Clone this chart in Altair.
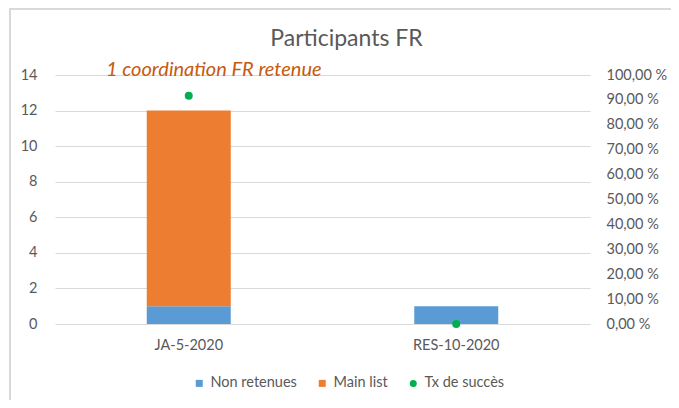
import altair as alt
import pandas as pd

categories = ["JA-5-2020", "RES-10-2020"]
non_retenues = [1, 1]
main_list = [11, 0]
tx_succes = [0.9167, 0.0]
series = ["Non retenues", "Main list", "Tx de succès"]
colors = ["#5b9bd5", "#ed7d31", "#00b050"]
shapes = ["square", "square", "circle"]
annotation = "1 coordination FR retenue"
left_ticks = [0, 2, 4, 6, 8, 10, 12, 14]
right_ticks = [0, 0.1, 0.2, 0.3, 0.4, 0.5, 0.6, 0.7, 0.8, 0.9, 1.0]

FONT = "Lato"
GREY = "#595959"
LS = 14.5

bars_df = pd.DataFrame({
    "cat": categories * 2,
    "serie": [series[0]] * 2 + [series[1]] * 2,
    "val": non_retenues + main_list,
    "ord": [0, 0, 1, 1],
})
pts_df = pd.DataFrame({"cat": categories, "serie": [series[2]] * 2, "rate": tx_succes})
ann_df = pd.DataFrame({"cat": [categories[0]], "val": [14], "t": [annotation]})
frame_df = pd.DataFrame({"a": [0]})

xenc = alt.X("cat:N", sort=categories, title=None,
             scale=alt.Scale(paddingInner=0.686, paddingOuter=0.343),
             axis=alt.Axis(labelAngle=0, ticks=False, domain=False, labelPadding=14,
                           labelFont=FONT, labelFontSize=LS, labelColor=GREY))

leg = alt.Legend(orient="none", legendX=137, legendY=301,
                 direction="horizontal", title=None, symbolSize=49,
                 columnPadding=18, labelFont=FONT, labelFontSize=LS,
                 labelColor=GREY, symbolStrokeWidth=0)

color = alt.Color("serie:N", scale=alt.Scale(domain=series, range=colors), legend=leg)
shape = alt.Shape("serie:N", scale=alt.Scale(domain=series, range=shapes), legend=leg)

yaxis = alt.Axis(values=left_ticks, grid=True, gridColor="#d9d9d9", ticks=False,
                 domain=False, labelPadding=18, labelFont=FONT, labelFontSize=LS,
                 labelColor=GREY, labelOverlap=False)
yscale = alt.Scale(domain=[0, 14], nice=False)

bars = alt.Chart(bars_df).mark_bar(size=84).encode(
    x=xenc,
    y=alt.Y("val:Q", stack="zero", title=None, scale=yscale, axis=yaxis),
    color=color, order=alt.Order("ord:Q"))

text = alt.Chart(ann_df).mark_text(fontStyle="italic", fontSize=20, font=FONT,
                                   color="#c55a11", dx=25, dy=-5, baseline="middle").encode(
    x=alt.X("cat:N", sort=categories),
    y=alt.Y("val:Q", stack=None, title=None, scale=yscale, axis=yaxis),
    text="t:N")

left = alt.layer(bars, text)

points = alt.Chart(pts_df).mark_point(filled=True, size=64, opacity=1).encode(
    x=alt.X("cat:N", sort=categories),
    y=alt.Y("rate:Q", title=None, scale=alt.Scale(domain=[0, 1], nice=False),
            axis=alt.Axis(orient="right", values=right_ticks, grid=False, ticks=False,
                          domain=False, labelPadding=16, labelFont=FONT, labelFontSize=LS,
                          labelColor=GREY, labelOverlap=False,
                          labelExpr="replace(format(datum.value*100, '.2f'), '.', ',') + ' %'")),
    color=color, shape=shape)

frame = alt.Chart(frame_df).mark_rect(fill=None, stroke="#d9d9d9", strokeWidth=2).encode(
    x=alt.value(-45), x2=alt.value(640), y=alt.value(-66), y2=alt.value(340))

chart = alt.layer(frame, left, points).resolve_scale(y="independent").properties(
    width=535, height=249,
    padding={"left": 47, "top": 67, "right": 81, "bottom": 76},
    autosize="none",
    title=alt.TitleParams("Participants FR", fontSize=23, color=GREY, font=FONT,
                          fontWeight="normal", dx=24, offset=-43),
).configure_view(stroke=None)

chart.save("out.html", embed_options={"renderer": "svg", "actions": False})
